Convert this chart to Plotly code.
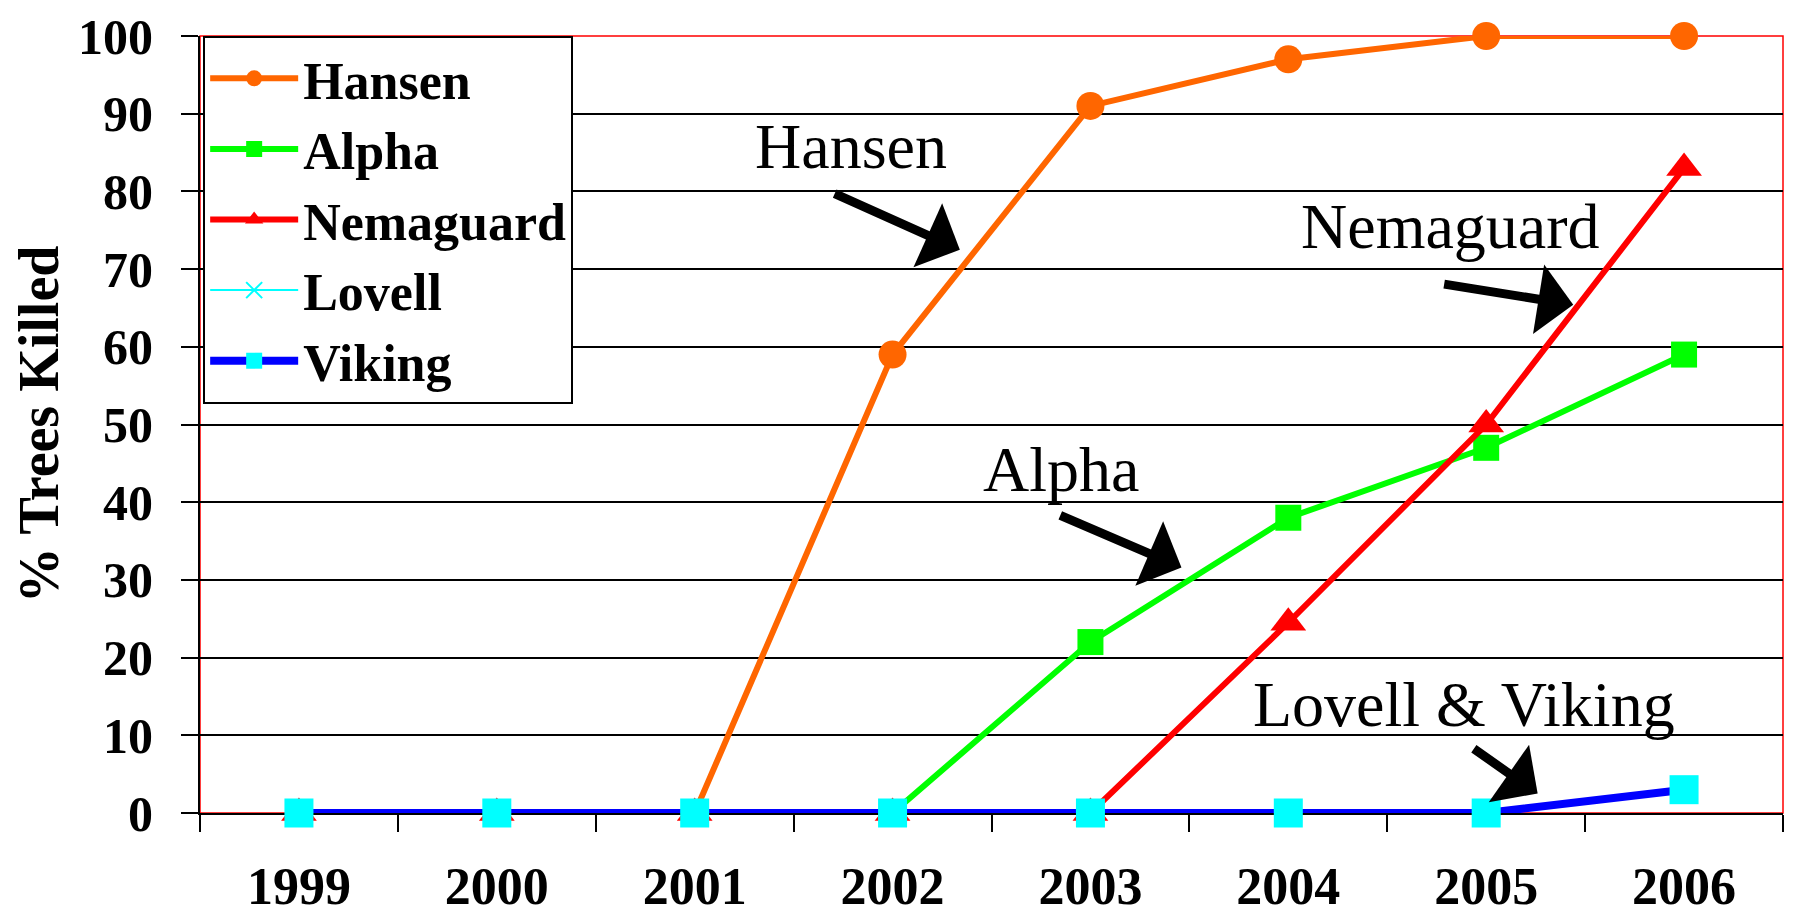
import plotly.graph_objects as go

# values
years = ["1999", "2000", "2001", "2002", "2003", "2004", "2005", "2006"]
hansen = [0, 0, 0, 59, 91, 97, 100, 100]
alpha = [0, 0, 0, 0, 22, 38, 47, 59]
nemaguard = [0, 0, 0, 0, 0, 24.5, 50, 83]
lovell = [0, 0, 0, 0, 0, 0, 0, 3]
viking = [0, 0, 0, 0, 0, 0, 0, 3]
y_ticks = [0, 10, 20, 30, 40, 50, 60, 70, 80, 90, 100]

# callout labels: (text, text x, text y, arrow tail x, tail y, arrow tip x, tip y)
callouts = [
    ("Hansen", 2.79, 85.8, 2.70, 79.8, 3.34, 72.5),
    ("Alpha", 3.85, 44.2, 3.84, 38.4, 4.46, 31.6),
    ("Nemaguard", 5.82, 75.5, 5.78, 68.1, 6.44, 65.4),
    ("Lovell &amp; Viking", 5.89, 14.0, 5.93, 8.4, 6.26, 2.5),
]

serif = "Liberation Serif, Times New Roman, serif"

fig = go.Figure()
fig.add_trace(go.Scatter(x=years, y=hansen, name="Hansen", mode="lines+markers",
                         line=dict(color="#FF6600", width=6), cliponaxis=False,
                         marker=dict(symbol="circle", size=28, color="#FF6600")))
fig.add_trace(go.Scatter(x=years, y=alpha, name="Alpha", mode="lines+markers",
                         line=dict(color="#00FF00", width=6), cliponaxis=False,
                         marker=dict(symbol="square", size=26, color="#00FF00")))
fig.add_trace(go.Scatter(x=years, y=nemaguard, name="Nemaguard", mode="lines+markers",
                         line=dict(color="#FF0000", width=6), cliponaxis=False,
                         marker=dict(symbol="triangle-up", size=31, color="#FF0000")))
fig.add_trace(go.Scatter(x=years, y=lovell, name="Lovell", mode="lines+markers",
                         line=dict(color="#00FFFF", width=2), cliponaxis=False,
                         marker=dict(symbol="x-thin", size=16, line=dict(color="#00FFFF", width=2))))
fig.add_trace(go.Scatter(x=years, y=viking, name="Viking", mode="lines+markers",
                         line=dict(color="#0000FF", width=8), cliponaxis=False,
                         marker=dict(symbol="square", size=29, color="#00FFFF")))

for text, tx, ty, ax, ay, hx, hy in callouts:
    fig.add_annotation(x=tx, y=ty, text=text, showarrow=False,
                       font=dict(family=serif, size=64, color="black"))
    fig.add_annotation(x=hx, y=hy, ax=ax, ay=ay, axref="x", ayref="y", text="",
                       showarrow=True, arrowhead=1, arrowsize=1.3, arrowwidth=9,
                       arrowcolor="black")

# red plot-area border
fig.add_shape(type="rect", xref="paper", yref="paper", x0=0, x1=1, y0=0, y1=1,
              line=dict(color="#FF0000", width=1.5), layer="between")

fig.update_layout(
    width=1795, height=916,
    margin=dict(l=192, r=20, t=28, b=111),
    paper_bgcolor="white", plot_bgcolor="white",
    font=dict(family=serif, color="black"),
    legend=dict(x=0.002, y=1, xanchor="left", yanchor="top",
                bgcolor="white", bordercolor="black", borderwidth=2,
                font=dict(family=serif, size=52, weight="bold", color="black"),
                itemwidth=88, tracegroupgap=0),
)
fig.update_xaxes(type="category", range=[-0.5, 7.5], tickson="boundaries",
                 ticks="outside", ticklen=17, tickwidth=2, tickcolor="black",
                 showline=True, linecolor="black", linewidth=2, layer="below traces",
                 showgrid=False, ticklabelstandoff=27, automargin=False,
                 ticklabeloverflow="allow",
                 tickfont=dict(family=serif, size=52, weight="bold", color="black"))
fig.update_yaxes(range=[0, 100], tickvals=y_ticks, ticks="outside", ticklen=17,
                 tickwidth=2, tickcolor="black", showline=True, linecolor="black",
                 linewidth=2, showgrid=True, gridcolor="black", gridwidth=2,
                 zeroline=False, layer="below traces", ticklabelstandoff=18,
                 automargin=False, ticklabeloverflow="allow",
                 tickfont=dict(family=serif, size=50, weight="bold", color="black"),
                 title=dict(text="% Trees Killed", standoff=10,
                            font=dict(family=serif, size=56, weight="bold", color="black")))

fig.write_html("out.html")
